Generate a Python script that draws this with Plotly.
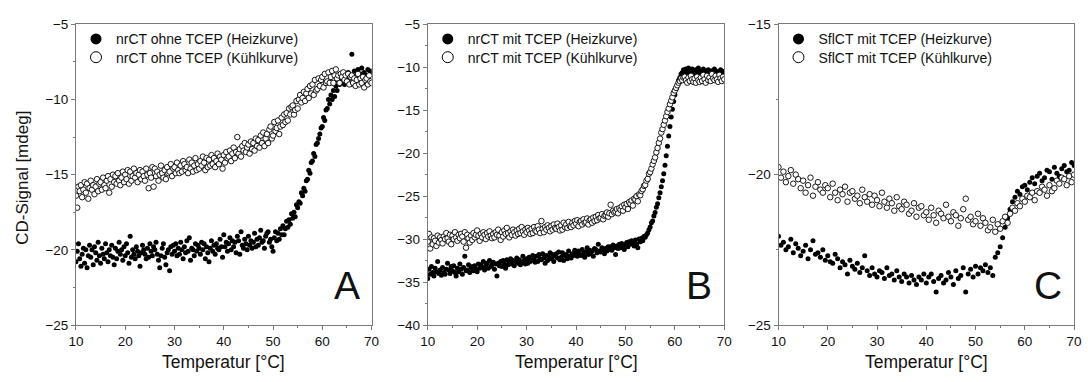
import plotly.graph_objects as go

# ---------------- data ----------------
temp_ab = [
 10.0,10.25,10.5,10.75, 11.0,11.25,11.5,11.75, 12.0,12.25,12.5,12.75, 13.0,13.25,13.5,13.75,
 14.0,14.25,14.5,14.75, 15.0,15.25,15.5,15.75, 16.0,16.25,16.5,16.75, 17.0,17.25,17.5,17.75,
 18.0,18.25,18.5,18.75, 19.0,19.25,19.5,19.75, 20.0,20.25,20.5,20.75, 21.0,21.25,21.5,21.75,
 22.0,22.25,22.5,22.75, 23.0,23.25,23.5,23.75, 24.0,24.25,24.5,24.75, 25.0,25.25,25.5,25.75,
 26.0,26.25,26.5,26.75, 27.0,27.25,27.5,27.75, 28.0,28.25,28.5,28.75, 29.0,29.25,29.5,29.75,
 30.0,30.25,30.5,30.75, 31.0,31.25,31.5,31.75, 32.0,32.25,32.5,32.75, 33.0,33.25,33.5,33.75,
 34.0,34.25,34.5,34.75, 35.0,35.25,35.5,35.75, 36.0,36.25,36.5,36.75, 37.0,37.25,37.5,37.75,
 38.0,38.25,38.5,38.75, 39.0,39.25,39.5,39.75, 40.0,40.25,40.5,40.75, 41.0,41.25,41.5,41.75,
 42.0,42.25,42.5,42.75, 43.0,43.25,43.5,43.75, 44.0,44.25,44.5,44.75, 45.0,45.25,45.5,45.75,
 46.0,46.25,46.5,46.75, 47.0,47.25,47.5,47.75, 48.0,48.25,48.5,48.75, 49.0,49.25,49.5,49.75,
 50.0,50.25,50.5,50.75, 51.0,51.25,51.5,51.75, 52.0,52.25,52.5,52.75, 53.0,53.25,53.5,53.75,
 54.0,54.25,54.5,54.75, 55.0,55.25,55.5,55.75, 56.0,56.25,56.5,56.75, 57.0,57.25,57.5,57.75,
 58.0,58.25,58.5,58.75, 59.0,59.25,59.5,59.75, 60.0,60.25,60.5,60.75, 61.0,61.25,61.5,61.75,
 62.0,62.25,62.5,62.75, 63.0,63.25,63.5,63.75, 64.0,64.25,64.5,64.75, 65.0,65.25,65.5,65.75,
 66.0,66.25,66.5,66.75, 67.0,67.25,67.5,67.75, 68.0,68.25,68.5,68.75, 69.0,69.25,69.5,69.75,
 70.0]

a_heat = [
 -20.8,-20.1,-19.6,-20.6, -21.1,-20.3,-19.9,-20.9, -20.0,-21.2,-20.4,-19.7, -20.5,-20.0,-21.0,-19.8,
 -20.2,-20.7,-19.5,-20.4, -20.9,-19.9,-20.3,-20.6, -19.6,-20.2,-20.8,-20.0, -20.4,-19.7,-20.5,-21.0,
 -19.9,-20.6,-20.1,-19.5, -20.3,-20.0,-20.7,-19.8, -20.4,-19.6,-20.2,-20.9, -19.1,-20.5,-20.0,-20.3,
 -20.6,-19.8,-20.1,-20.4, -21.1,-20.2,-19.7,-20.0, -20.3,-20.6,-19.9,-20.5, -19.6,-20.1,-20.4,-19.8,
 -20.0,-19.5,-20.3,-20.7, -21.2,-20.4,-19.9,-19.6, -20.5,-21.0,-20.2,-20.0, -21.4,-19.8,-20.3,-19.7,
 -20.1,-19.6,-20.4,-19.9, -20.3,-19.5,-20.0,-20.6, -19.8,-20.2,-19.4,-20.1, -19.2,-20.7,-19.9,-20.0,
 -20.4,-19.6,-20.1,-19.7, -19.9,-20.3,-19.5,-20.0, -19.6,-20.6,-19.8,-20.2, -20.8,-19.9,-19.4,-20.1,
 -19.7,-20.3,-19.6,-19.9, -20.0,-19.3,-19.8,-20.5, -19.0,-19.8,-19.5,-20.1, -19.6,-19.2,-20.0,-19.4,
 -19.8,-19.5,-20.2,-19.1, -19.4,-20.3,-18.8,-19.7, -19.9,-19.3,-19.6,-20.0, -19.1,-19.7,-19.4,-19.9,
 -19.5,-18.9,-19.8,-19.3, -19.7,-19.2,-18.7,-19.5, -19.4,-19.9,-19.1,-18.9, -18.8,-19.5,-19.3,-19.8,
 -20.1,-19.2,-18.8,-19.4, -18.9,-19.3,-18.6,-19.0, -18.4,-19.0,-18.6,-18.1, -18.5,-18.0,-18.3,-17.6,
 -17.9,-17.5,-17.8,-17.0, -17.2,-16.8,-16.9,-16.2, -16.4,-15.9,-16.1,-15.4, -15.3,-14.7,-14.9,-14.2,
 -14.1,-13.6,-13.8,-13.0, -12.9,-12.6,-12.3,-11.9, -11.8,-11.2,-11.4,-10.7, -10.6,-10.0,-10.3,-9.7,
 -10.0,-9.4,-9.8,-9.1, -9.4,-8.8,-9.0,-8.6, -8.8,-8.5,-9.0,-8.4, -8.7,-8.2,-8.6,-9.0,
 -7.0,-8.4,-8.1,-8.8, -8.5,-8.0,-8.7,-8.3, -7.9,-8.6,-8.2,-8.9, -8.4,-8.0,-8.7,-8.2,
 -8.1]

a_cool = [
 -16.4,-17.2,-15.8,-16.1, -15.7,-16.5,-16.0,-15.5, -16.2,-15.6,-16.6,-15.9, -15.4,-16.0,-15.7,-16.3,
 -15.8,-15.3,-16.1,-15.6, -15.5,-16.0,-15.2,-15.7, -15.9,-15.4,-15.1,-16.2, -15.3,-15.8,-15.0,-15.5,
 -15.1,-15.6,-14.9,-15.4, -15.7,-15.2,-14.8,-15.5, -15.0,-15.3,-14.7,-15.6, -14.8,-15.4,-15.1,-14.6,
 -15.2,-14.9,-15.5,-15.0, -14.7,-15.3,-14.8,-15.1, -15.4,-14.6,-15.0,-15.9, -14.9,-15.2,-14.5,-15.8,
 -14.6,-15.1,-14.8,-15.4, -15.0,-14.4,-14.9,-15.2, -14.7,-15.3,-14.5,-14.9, -14.8,-14.3,-15.1,-14.6,
 -14.5,-14.9,-14.2,-14.7, -14.9,-14.4,-14.8,-14.1, -14.3,-14.7,-14.5,-14.9, -14.0,-14.6,-14.2,-14.8,
 -14.4,-13.9,-14.7,-14.3, -14.6,-14.1,-14.4,-13.8, -14.2,-14.7,-13.9,-14.5, -14.0,-14.4,-13.7,-14.3,
 -13.9,-14.5,-14.1,-13.6, -14.3,-13.8,-14.0,-14.6, -13.7,-14.2,-13.5,-13.9, -13.8,-13.4,-14.1,-13.6,
 -13.2,-13.9,-13.5,-12.5, -13.6,-13.3,-13.8,-13.1, -13.4,-12.9,-13.5,-13.2, -13.0,-13.6,-12.8,-13.3,
 -12.9,-13.4,-12.6,-13.1, -12.7,-13.2,-12.4,-12.9, -12.2,-13.1,-12.6,-12.3, -12.9,-12.0,-11.8,-12.6,
 -12.4,-11.5,-12.1,-11.9, -11.4,-12.3,-11.8,-11.2, -11.7,-11.0,-11.5,-10.9, -11.4,-10.6,-11.0,-10.5,
 -10.4,-11.0,-10.7,-10.1, -10.6,-10.0,-9.7,-10.2, -9.9,-9.5,-10.1,-9.6, -9.3,-9.9,-9.1,-9.6,
 -9.0,-9.7,-8.7,-9.4, -9.3,-8.6,-9.1,-8.7, -8.5,-9.2,-8.3,-8.9, -8.8,-8.2,-8.9,-8.5,
 -8.1,-8.9,-8.4,-8.0, -8.6,-8.4,-8.9,-8.3, -8.5,-8.2,-8.7,-8.4, -8.8,-8.3,-9.0,-8.5,
 -8.4,-8.9,-8.6,-9.1, -8.7,-8.3,-9.0,-8.6, -8.9,-8.5,-9.2,-8.7, -8.6,-9.0,-8.4,-8.8,
 -8.9]

b_heat = [
 -34.6,-33.5,-34.1,-33.2, -33.9,-34.3,-33.4,-33.8, -32.6,-34.0,-33.6,-34.2, -33.3,-33.9,-34.1,-33.5,
 -32.8,-33.6,-34.0,-33.2, -33.7,-33.1,-33.9,-34.3, -33.4,-33.8,-32.9,-33.5, -34.1,-33.3,-32.0,-33.7,
 -33.6,-33.0,-33.9,-33.4, -33.2,-33.7,-33.1,-33.5, -33.8,-32.9,-33.4,-33.0, -33.3,-32.6,-33.6,-33.1,
 -32.8,-33.4,-32.5,-33.2, -33.0,-32.7,-33.5,-32.9, -34.3,-32.8,-33.1,-32.6, -33.2,-32.5,-32.9,-33.4,
 -32.4,-33.0,-32.7,-32.3, -32.9,-32.5,-33.1,-32.6, -32.2,-32.8,-32.4,-33.0, -32.7,-32.0,-32.5,-32.9,
 -32.3,-32.8,-32.1,-32.6, -32.5,-31.9,-32.4,-32.7, -32.0,-32.6,-31.8,-32.3, -32.4,-31.7,-32.2,-32.8,
 -31.9,-32.5,-32.1,-31.6, -32.3,-31.8,-32.6,-32.0, -31.7,-32.2,-31.5,-32.4, -32.1,-31.6,-32.5,-31.9,
 -31.8,-32.3,-31.4,-32.0, -32.2,-31.7,-31.9,-31.3, -31.6,-32.0,-31.4,-31.8, -31.9,-31.2,-31.7,-32.1,
 -31.5,-31.0,-31.8,-31.3, -31.7,-31.4,-32.0,-31.1, -31.2,-31.6,-30.6,-31.4, -31.5,-31.0,-31.3,-31.7,
 -31.1,-31.4,-30.9,-31.2, -30.9,-31.3,-30.7,-31.0, -31.8,-30.8,-31.1,-30.6, -31.0,-30.5,-30.8,-31.2,
 -30.7,-30.4,-30.9,-30.3, -30.6,-30.2,-30.5,-30.8, -30.1,-30.6,-31.0,-30.0, -30.3,-29.9,-30.2,-29.7,
 -29.8,-29.5,-29.3,-28.9, -28.6,-28.1,-27.9,-27.3, -26.9,-26.3,-25.9,-25.2, -24.6,-23.9,-23.2,-22.4,
 -21.4,-20.3,-19.2,-18.0, -16.9,-15.8,-14.9,-14.0, -13.2,-12.5,-12.0,-11.5, -11.2,-10.8,-10.6,-10.3,
 -10.5,-10.2,-10.6,-10.1, -10.3,-10.7,-10.2,-10.5, -10.8,-10.3,-10.6,-10.1, -10.4,-10.9,-10.5,-10.2,
 -10.7,-10.4,-10.9,-10.3, -10.6,-11.0,-10.4,-10.8, -10.2,-10.7,-10.5,-11.1, -10.6,-10.3,-10.9,-10.5,
 -10.8]

b_cool = [
 -30.3,-29.4,-31.1,-29.8, -30.6,-29.9,-30.2,-30.8, -29.6,-30.4,-29.8,-30.1, -30.5,-29.7,-30.0,-29.3,
 -29.9,-30.3,-29.5,-30.6, -29.6,-30.0,-29.2,-29.8, -30.2,-29.5,-29.9,-29.4, -29.7,-30.3,-29.2,-31.0,
 -29.5,-29.9,-30.4,-29.6, -30.1,-29.3,-29.8,-29.5, -29.0,-29.6,-30.2,-29.4, -29.8,-29.2,-29.5,-30.0,
 -29.3,-29.7,-29.1,-29.6, -29.9,-29.4,-29.8,-29.2, -29.5,-28.9,-29.6,-30.1, -29.2,-29.7,-29.0,-29.4,
 -28.7,-29.3,-29.8,-29.1, -29.5,-28.9,-29.2,-29.6, -29.0,-29.4,-28.8,-29.3, -28.6,-29.1,-29.5,-28.9,
 -29.2,-28.7,-29.0,-29.4, -28.8,-29.3,-28.6,-29.0, -29.1,-28.5,-28.9,-29.3, -27.9,-28.8,-29.2,-28.6,
 -28.9,-28.4,-28.7,-29.1, -28.5,-28.9,-28.3,-28.7, -28.8,-28.2,-28.6,-29.0, -28.4,-28.9,-28.1,-28.6,
 -28.3,-28.7,-28.0,-28.5, -28.6,-28.1,-28.4,-27.9, -28.2,-27.8,-28.5,-28.0, -27.9,-28.3,-27.7,-28.1,
 -28.0,-27.6,-28.3,-27.8, -27.7,-28.1,-27.5,-27.9, -27.4,-27.8,-27.2,-27.6, -27.5,-27.1,-27.7,-27.3,
 -27.2,-26.9,-27.4,-27.0, -26.0,-27.1,-26.7,-26.9, -26.8,-26.5,-27.0,-26.4, -26.6,-26.2,-26.7,-26.0,
 -26.3,-25.9,-26.5,-25.7, -25.9,-25.5,-26.1,-25.3, -25.4,-25.0,-25.6,-24.8, -24.9,-24.4,-24.2,-23.8,
 -23.7,-23.2,-23.0,-22.4, -22.2,-21.8,-21.3,-20.9, -20.5,-19.9,-19.4,-18.8, -18.3,-17.6,-17.2,-16.7,
 -16.2,-15.7,-15.2,-14.8, -14.3,-13.9,-13.5,-13.0, -12.7,-12.4,-12.1,-11.8, -11.6,-11.3,-11.5,-11.2,
 -11.1,-11.5,-11.8,-11.2, -11.6,-11.0,-11.4,-11.7, -11.3,-11.8,-11.1,-11.5, -11.7,-11.2,-11.6,-10.9,
 -11.4,-11.8,-11.0,-11.5, -11.2,-11.6,-10.8,-11.3, -11.5,-11.0,-11.4,-11.7, -10.9,-11.3,-11.6,-11.1,
 -11.4]

temp_c = [
 10.0,10.5, 11.0,11.5, 12.0,12.5, 13.0,13.5, 14.0,14.5, 15.0,15.5, 16.0,16.5, 17.0,17.5,
 18.0,18.5, 19.0,19.5, 20.0,20.5, 21.0,21.5, 22.0,22.5, 23.0,23.5, 24.0,24.5, 25.0,25.5,
 26.0,26.5, 27.0,27.5, 28.0,28.5, 29.0,29.5, 30.0,30.5, 31.0,31.5, 32.0,32.5, 33.0,33.5,
 34.0,34.5, 35.0,35.5, 36.0,36.5, 37.0,37.5, 38.0,38.5, 39.0,39.5, 40.0,40.5, 41.0,41.5,
 42.0,42.5, 43.0,43.5, 44.0,44.5, 45.0,45.5, 46.0,46.5, 47.0,47.5, 48.0,48.5, 49.0,49.5,
 50.0,50.5, 51.0,51.5, 52.0,52.5, 53.0,53.5, 54.0,54.5, 55.0,55.5, 56.0,56.5, 57.0,57.5,
 58.0,58.5, 59.0,59.5, 60.0,60.5, 61.0,61.5, 62.0,62.5, 63.0,63.5, 64.0,64.5, 65.0,65.5,
 66.0,66.5, 67.0,67.5, 68.0,68.5, 69.0,69.5, 70.0]

c_heat = [
 -22.05,-22.35, -22.25,-22.5, -22.4,-22.15, -22.6,-22.3, -22.45,-22.7, -22.55,-22.35, -22.8,-22.5, -22.2,-22.65,
 -22.6,-22.75, -22.5,-22.85, -22.7,-22.9, -22.95,-22.65, -22.8,-23.1, -22.9,-23.0, -23.3,-22.85, -23.05,-23.15,
 -22.95,-23.25, -23.1,-22.7, -23.2,-23.35, -23.1,-23.3, -23.4,-23.2, -23.25,-23.45, -23.1,-23.35, -23.3,-23.5,
 -23.2,-23.4, -23.55,-23.3, -23.4,-23.6, -23.35,-23.5, -23.65,-23.4, -23.5,-23.3, -23.6,-23.4, -23.3,-23.55,
 -23.9,-23.45, -23.35,-23.6, -23.5,-23.25, -23.4,-23.65, -23.2,-23.45, -23.35,-23.1, -23.9,-23.3, -23.15,-23.4,
 -23.05,-23.3, -23.1,-23.2, -23.0,-23.25, -23.1,-23.35, -22.75,-22.6, -22.4,-22.1, -21.75,-21.45, -21.15,-20.9,
 -20.75,-20.55, -20.65,-20.4, -20.35,-20.5, -20.25,-20.1, -20.3,-20.05, -19.95,-20.2, -20.1,-19.85, -19.9,-20.15,
 -19.75,-19.95, -20.05,-19.8, -19.7,-19.9, -19.85,-19.6, -19.7]

c_cool = [
 -19.75,-20.1, -19.9,-20.25, -20.05,-19.85, -20.3,-20.0, -20.15,-20.45, -20.2,-20.6, -20.35,-20.1, -20.7,-20.4,
 -20.25,-20.5, -20.6,-20.35, -20.45,-20.75, -20.3,-20.6, -20.85,-20.5, -20.65,-20.4, -20.9,-20.6, -20.55,-20.8,
 -20.7,-20.95, -20.5,-20.75, -20.9,-20.65, -21.0,-20.7, -20.85,-21.05, -20.6,-20.9, -21.1,-20.8, -20.95,-21.2,
 -20.75,-21.05, -21.15,-20.9, -21.0,-21.3, -21.2,-20.95, -21.4,-21.1, -21.05,-21.35, -21.25,-21.5, -21.1,-21.35,
 -21.6,-21.2, -21.3,-21.45, -21.0,-21.4, -21.55,-21.25, -21.35,-21.7, -21.45,-21.15, -20.8,-21.5, -21.4,-21.65,
 -21.55,-21.3, -21.7,-21.45, -21.6,-21.85, -21.75,-21.5, -21.9,-21.65, -21.8,-21.55, -21.4,-21.6, -21.3,-21.1,
 -21.2,-20.95, -21.05,-20.8, -20.9,-20.7, -20.75,-20.6, -20.85,-20.55, -20.6,-20.4, -20.5,-20.7, -20.35,-20.55,
 -20.45,-20.2, -20.3,-20.1, -20.15,-20.35, -20.05,-20.25, -20.0]

legend_a = ["nrCT ohne TCEP (Heizkurve)", "nrCT ohne TCEP (Kühlkurve)"]
legend_b = ["nrCT mit TCEP (Heizkurve)", "nrCT mit TCEP (Kühlkurve)"]
legend_c = ["SflCT mit TCEP (Heizkurve)", "SflCT mit TCEP (Kühlkurve)"]
panel_letters = ["A", "B", "C"]
y_ranges = [[-25, -5], [-40, -5], [-25, -15]]
x_title = "Temperatur [°C]"
y_title = "CD-Signal [mdeg]"

# ---------------- figure ----------------
W, H = 1088, 382
FONT = "Liberation Sans, Arial, sans-serif"
AXC = "#7a7a7a"

panels = [
    (temp_ab, a_heat, temp_ab, a_cool, legend_a),
    (temp_ab, b_heat, temp_ab, b_cool, legend_b),
    (temp_c, c_heat, temp_c, c_cool, legend_c),
]
x_px = [(69, 369), (426, 727), (782, 1082)]
y_top, y_bot = 18, 331
legend_x = [69, 426, 782]
legend_rows_top = [17, 36]

fig = go.Figure()
layout = dict(
    width=W, height=H, margin=dict(l=0, r=0, t=0, b=0),
    paper_bgcolor="white", plot_bgcolor="white",
    font=dict(family=FONT, color="#111"),
    showlegend=True,
)

annotations = []
lg_count = 0
for i, (xh, yh, xc, yc, names) in enumerate(panels):
    ax = "" if i == 0 else str(i + 1)
    xref, yref = "x" + ax, "y" + ax
    fig.add_trace(go.Scatter(x=xh, y=yh, mode="markers", xaxis=xref, yaxis=yref,
                             marker=dict(symbol="circle", size=5, color="black",
                                         line=dict(width=0)),
                             showlegend=False, hoverinfo="skip"))
    fig.add_trace(go.Scatter(x=xc, y=yc, mode="markers", xaxis=xref, yaxis=yref,
                             marker=dict(symbol="circle", size=5.5, color="white",
                                         line=dict(width=0.9, color="black")),
                             showlegend=False, hoverinfo="skip"))
    # legend entries (one legend box per row for exact spacing)
    for k in range(2):
        lg_count += 1
        lg = "legend" if lg_count == 1 else "legend%d" % lg_count
        mk = dict(symbol="circle", size=11, color="black") if k == 0 else \
            dict(symbol="circle", size=11, color="white", line=dict(width=1, color="black"))
        fig.add_trace(go.Scatter(x=[None], y=[None], mode="markers", xaxis=xref, yaxis=yref,
                                 name=names[k], legend=lg, marker=mk))
        layout[lg] = dict(
            x=legend_x[i] / W, y=1 - legend_rows_top[k] / H, xanchor="left", yanchor="top",
            bgcolor="rgba(0,0,0,0)", font=dict(size=14, family=FONT, color="#111"),
            itemwidth=30, tracegroupgap=0,
        )

    x0, x1 = x_px[i]
    layout["xaxis" + ax] = dict(
        domain=[x0 / W, x1 / W], range=[10, 70], dtick=10, tick0=10,
        showline=True, linecolor=AXC, linewidth=1, mirror=True,
        ticks="outside", ticklen=4, tickcolor=AXC, tickwidth=1,
        minor=dict(dtick=5, ticks="outside", ticklen=2, tickcolor=AXC),
        showgrid=False, zeroline=False, anchor=yref,
        tickfont=dict(size=13.5, color="#111", family=FONT),
    )
    layout["yaxis" + ax] = dict(
        domain=[1 - y_bot / H, 1 - y_top / H], range=y_ranges[i], dtick=5,
        showline=True, linecolor=AXC, linewidth=1, mirror=True,
        ticks="outside", ticklen=4, tickcolor=AXC, tickwidth=1,
        minor=dict(dtick=2.5, ticks="outside", ticklen=2, tickcolor=AXC),
        showgrid=False, zeroline=False, anchor=xref,
        tickfont=dict(size=13.5, color="#111", family=FONT),
    )
    annotations.append(dict(
        text=x_title, x=(x0 + x1) / 2 / W, y=1 - 370 / H, xref="paper", yref="paper",
        xanchor="center", yanchor="middle", showarrow=False,
        font=dict(size=17.5, family=FONT, color="#111")))
    annotations.append(dict(
        text=panel_letters[i], x=(x1 - 10) / W, y=1 - 314 / H, xref="paper", yref="paper",
        xanchor="right", yanchor="bottom", showarrow=False,
        font=dict(size=39, family=FONT, color="#111")))

annotations.append(dict(
    text=y_title, x=14 / W, y=1 - 178 / H, xref="paper", yref="paper",
    xanchor="center", yanchor="middle", showarrow=False, textangle=-90,
    font=dict(size=17, family=FONT, color="#111")))
layout["annotations"] = annotations

fig.update_layout(**layout)
fig.write_html("out.html")
